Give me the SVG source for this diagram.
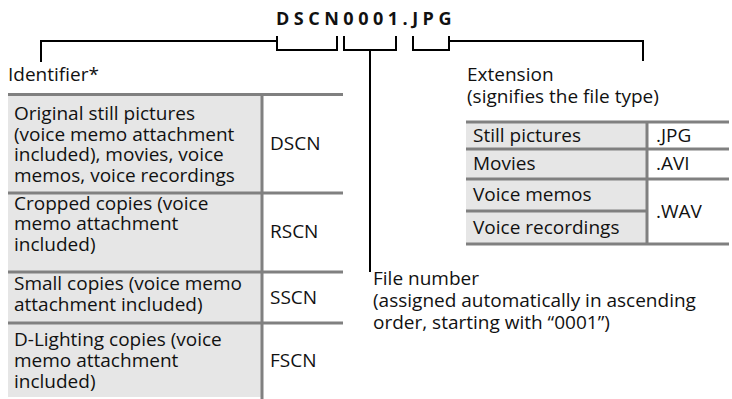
<svg xmlns="http://www.w3.org/2000/svg" width="732" height="399" viewBox="0 0 732 399">
<style>
text{font-family:"Open Sans","Noto Sans","Liberation Sans",sans-serif;font-size:19px;fill:#111}
.title{font-weight:bold;font-size:18px;letter-spacing:4.5px}
.conn{fill:none;stroke:#000;stroke-width:2}
.cell{fill:#e6e6e6}
.rule{stroke:#808080;stroke-width:3;fill:none}
</style>
<rect width="732" height="399" fill="#fff"/>
<g id="title"><text class="title" x="276" y="25">DSCN0001.JPG</text></g>
<g id="connectors">
<path class="conn" d="M41,62 V41 H277"/>
<path class="conn" d="M277,36 V50 H337 V36"/>
<path class="conn" d="M344,36 V50 H396 V36"/>
<path class="conn" d="M370,50 V272"/>
<path class="conn" d="M413,36 V50 H449 V36"/>
<path class="conn" d="M449,41 H643 V61"/>
</g>
<g id="identifier">
<text x="8" y="81">Identifier*</text>
<rect class="cell" x="8" y="93" width="254" height="304"/>
<path class="rule" d="M8,94.5 H343 M8,193 H343 M8,272 H343 M8,323 H343 M262,93 V399"/>
<text x="14" y="120">Original still pictures</text>
<text x="14" y="141">(voice memo attachment</text>
<text x="14" y="161">included), movies, voice</text>
<text x="14" y="182">memos, voice recordings</text>
<text x="270" y="150">DSCN</text>
<text x="14" y="210">Cropped copies (voice</text>
<text x="14" y="230">memo attachment</text>
<text x="14" y="251">included)</text>
<text x="270" y="238">RSCN</text>
<text x="14" y="290">Small copies (voice memo</text>
<text x="14" y="311">attachment included)</text>
<text x="270" y="304">SSCN</text>
<text x="14" y="346">D-Lighting copies (voice</text>
<text x="14" y="367">memo attachment</text>
<text x="14" y="388">included)</text>
<text x="270" y="367">FSCN</text>
</g>
<g id="extension">
<text x="467" y="81">Extension</text>
<text x="467" y="103">(signifies the file type)</text>
<rect class="cell" x="466" y="122" width="181" height="122"/>
<path class="rule" d="M466,122 H729 M466,149 H729 M466,179 H729 M466,211 H647 M466,244 H729 M647,122 V244"/>
<text x="473" y="142">Still pictures</text>
<text x="656" y="142">.JPG</text>
<text x="473" y="170">Movies</text>
<text x="656" y="170">.AVI</text>
<text x="473" y="201">Voice memos</text>
<text x="473" y="234">Voice recordings</text>
<text x="656" y="218">.WAV</text>
</g>
<g id="filenumber">
<text x="373" y="285">File number</text>
<text x="373" y="307">(assigned automatically in ascending</text>
<text x="373" y="329">order, starting with “0001”)</text>
</g>
</svg>
